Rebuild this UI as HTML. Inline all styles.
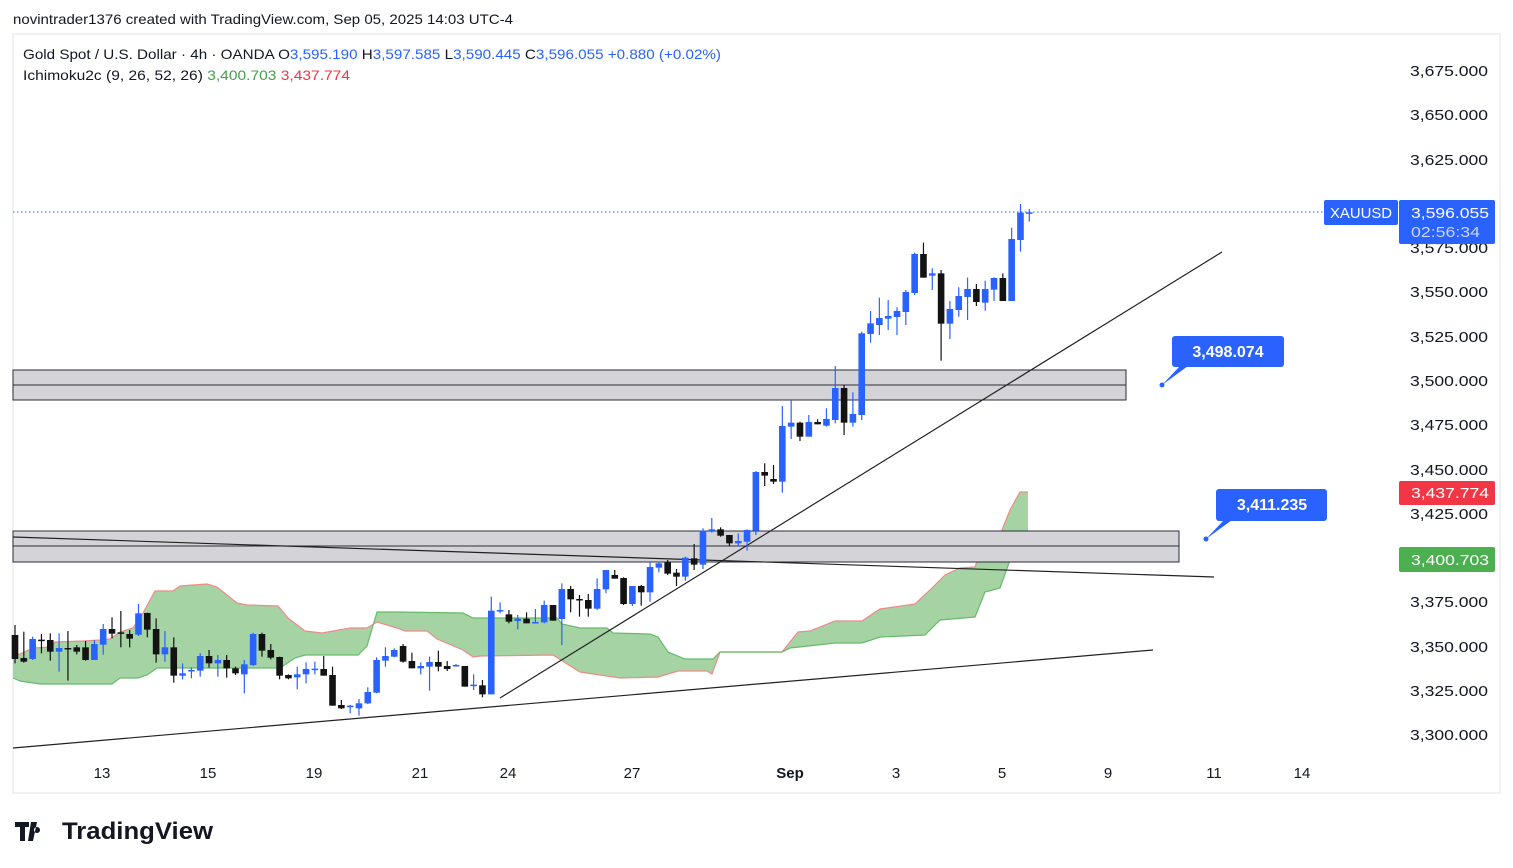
<!DOCTYPE html>
<html><head><meta charset="utf-8">
<style>
html,body{margin:0;padding:0;background:#fff;}
body{width:1513px;height:868px;overflow:hidden;position:relative;font-family:"Liberation Sans",sans-serif;}
svg{position:absolute;left:0;top:0;}
</style></head>
<body>
<svg id="s" width="1513" height="868" xmlns="http://www.w3.org/2000/svg" font-family="Liberation Sans, sans-serif">
<rect x="13" y="34" width="1487" height="759" fill="#fff" stroke="#e0e3eb"/>
<text x="13" y="24" font-size="14" fill="#131722" textLength="500" lengthAdjust="spacingAndGlyphs">novintrader1376 created with TradingView.com, Sep 05, 2025 14:03 UTC-4</text>
<text x="23" y="59" font-size="14" fill="#131722" textLength="698" lengthAdjust="spacingAndGlyphs">Gold Spot / U.S. Dollar · 4h · OANDA  <tspan>O</tspan><tspan fill="#2962ff">3,595.190</tspan> H<tspan fill="#2962ff">3,597.585</tspan> L<tspan fill="#2962ff">3,590.445</tspan> C<tspan fill="#2962ff">3,596.055</tspan> <tspan fill="#2962ff">+0.880 (+0.02%)</tspan></text>
<text x="23" y="80" font-size="14" fill="#131722" textLength="327" lengthAdjust="spacingAndGlyphs">Ichimoku2c (9, 26, 52, 26) <tspan fill="#43a047">3,400.703</tspan> <tspan fill="#f23645">3,437.774</tspan></text>
<g id="cloud"></g>
<g id="zones">
<rect x="13" y="370" width="1113" height="30" fill="#d4d4d8" stroke="#2a2e39" stroke-width="1"/>
<line x1="13" y1="385" x2="1126" y2="385" stroke="#2a2e39"/>
<rect x="13" y="531" width="1166" height="31" fill="#d4d4d8" stroke="#2a2e39" stroke-width="1"/>
<line x1="13" y1="546" x2="1179" y2="546" stroke="#2a2e39"/>
</g>
<g stroke="#222" stroke-width="1.2">
<line x1="500" y1="698" x2="1222" y2="252"/>
<line x1="13" y1="537" x2="1214" y2="577"/>
<line x1="13" y1="748" x2="1153" y2="650"/>
</g>
<line x1="13" y1="212" x2="1324" y2="212" stroke="#2962ff" stroke-dasharray="1.5,2.5"/>
<g id="candles"></g>
<g font-size="15" fill="#131722" id="yax"></g>
<g font-size="15" fill="#131722" text-anchor="middle">
<text x="102" y="778">13</text><text x="208" y="778">15</text><text x="314" y="778">19</text><text x="420" y="778">21</text><text x="508" y="778">24</text><text x="632" y="778">27</text><text x="790" y="778" font-weight="bold">Sep</text><text x="896" y="778">3</text><text x="1002" y="778">5</text><text x="1108" y="778">9</text><text x="1214" y="778">11</text><text x="1302" y="778">14</text>
</g>
<rect x="1324" y="200" width="74" height="25" rx="2" fill="#2962ff"/>
<text x="1330" y="218" font-size="15" fill="#fff" textLength="62" lengthAdjust="spacingAndGlyphs">XAUUSD</text>
<rect x="1399" y="200" width="96" height="44" rx="2" fill="#2962ff"/>
<text x="1411" y="218" font-size="15" fill="#fff" textLength="78" lengthAdjust="spacingAndGlyphs">3,596.055</text>
<text x="1411" y="237" font-size="15" fill="#c9d6ff" textLength="69" lengthAdjust="spacingAndGlyphs">02:56:34</text>
<rect x="1399" y="481" width="96" height="24" rx="2" fill="#f23645"/>
<text x="1411" y="498" font-size="15" fill="#fff" textLength="78" lengthAdjust="spacingAndGlyphs">3,437.774</text>
<rect x="1399" y="547" width="96" height="25" rx="2" fill="#4caf50"/>
<text x="1411" y="565" font-size="15" fill="#fff" textLength="78" lengthAdjust="spacingAndGlyphs">3,400.703</text>
<rect x="1172" y="336" width="112" height="31" rx="3" fill="#2962ff"/>
<polygon points="1180,366 1162,385 1188,366" fill="#2962ff"/><circle cx="1162" cy="385" r="2.5" fill="#2962ff"/>
<text x="1228" y="357" font-size="16" font-weight="bold" fill="#fff" text-anchor="middle">3,498.074</text>
<rect x="1216" y="489" width="111" height="32" rx="3" fill="#2962ff"/>
<polygon points="1224,520 1206,539 1232,520" fill="#2962ff"/><circle cx="1206" cy="539" r="2.5" fill="#2962ff"/>
<text x="1272" y="510" font-size="16" font-weight="bold" fill="#fff" text-anchor="middle">3,411.235</text>
<g transform="translate(15,820)">
<path d="M0 2h14v5h-4v14h-5V7H0z M16 2h6l-4 19h-5z M22 7a3 3 0 1 0 0.01 0z" fill="#131722"/>
</g>
<text x="62" y="839" font-size="24" font-weight="bold" fill="#131722" textLength="151" lengthAdjust="spacingAndGlyphs">TradingView</text>
</svg>
<script>
var NS="http://www.w3.org/2000/svg";
function el(p,t,a){var e=document.createElementNS(NS,t);for(var k in a)e.setAttribute(k,a[k]);p.appendChild(e);return e;}
var ya=document.getElementById('yax');
var labs=[["3,675.000",70],["3,650.000",114],["3,625.000",159],["3,575.000",247],["3,550.000",291],["3,525.000",336],["3,500.000",380],["3,475.000",424],["3,450.000",469],["3,425.000",513],["3,375.000",601],["3,350.000",646],["3,325.000",690],["3,300.000",734]];
labs.forEach(function(l){var t=el(ya,'text',{x:1410,y:l[1]+6,textLength:78,lengthAdjust:'spacingAndGlyphs'});t.textContent=l[0];});
var red=[[13,655],[20,654],[33,648],[50,647],[55,642],[83,641],[100,640],[110,639],[120,632],[133,628],[143,613],[155,591],[173,591],[180,586],[207,584],[217,587],[237,603],[247,605],[278,606],[288,618],[305,631],[322,633],[350,628],[367,628],[377,622],[397,628],[405,631],[427,631],[437,639],[463,650],[473,657],[480,656],[553,655],[580,672],[620,678],[658,677],[678,671],[707,671],[712,674],[720,652],[782,652],[798,632],[810,631],[835,621],[862,621],[880,609],[915,604],[930,590],[945,575],[960,568],[975,567],[985,540],[1000,535],[1010,510],[1020,492],[1028,492]];
var grn=[[13,678],[20,681],[40,684],[112,684],[120,678],[138,678],[147,675],[157,668],[280,668],[295,658],[305,655],[358,655],[367,646],[377,612],[397,612],[463,613],[473,618],[480,618],[557,618],[562,624],[580,628],[607,628],[613,633],[650,634],[658,637],[668,652],[685,659],[713,659],[720,652],[782,652],[790,648],[835,643],[862,643],[880,637],[925,635],[940,620],[975,617],[985,592],[1000,588],[1010,560],[1028,558]];
var cg=document.getElementById('cloud');
var pts=red.concat(grn.slice().reverse()).map(function(p){return p.join(',')}).join(' ');
el(cg,'polygon',{points:pts,fill:'#a5d3a3'});
el(cg,'polyline',{points:red.map(function(p){return p.join(',')}).join(' '),fill:'none',stroke:'#ef8a8a','stroke-width':1.2});
el(cg,'polyline',{points:grn.map(function(p){return p.join(',')}).join(' '),fill:'none',stroke:'#66bb6a','stroke-width':1.2});
var z1=[[0,225,297,195,310],[0,294,305,215,308],[1,237,297,230,300],[0,239,241,222,280],[0,240,275,220,302],[1,264,275,220,335],[0,264,266,213,362],[0,262,275,255,283],[0,262,300,243,302],[1,252,300,240,300],[1,207,254,192,284],[0,207,221,172,235],[0,217,219,153,262],[0,222,236,210,262],[1,160,224,132,228],[0,159,209,158,232],[0,207,283,175,308],[1,262,283,213,305],[0,262,347,232,368],[1,340,347,310,358],[1,330,333,322,355],[1,288,332,280,350],[0,288,310,270,323],[1,300,310,285,350],[0,300,325,285,353],[0,325,340,320,345],[1,313,343,300,400],[1,222,315,218,318],[0,222,272,218,290],[0,270,293,252,298],[0,291,347,290,358],[0,345,355,343,358],[1,343,352,320,388],[1,327,343,307,370],[1,326,328,305,343],[0,327,347,288,347],[0,345,437,320,437],[0,435,445,420,447],[1,437,441,435,460],[1,430,445,417,467],[1,396,430,382,432],[1,300,398,292,400],[1,288,302,262,320],[1,270,290,265,292],[0,258,305,252,308],[0,303,325,278,325],[1,318,325,307,343],[1,306,320,290,392],[0,306,320,272,334],[0,318,327,303,333],[1,315,317,312,317],[0,318,380,318,380],[1,374,376,343,390],[0,376,403,360,412],[1,152,403,110,403]];
var z2=[[1,750,754,727,760],[0,763,785,750,790],[1,776,783,765,808],[0,776,790,757,790],[1,786,788,747,790],[1,735,787,722,790],[0,735,782,735,782],[1,687,777,670,855],[0,687,718,678,757],[0,717,721,705,770],[0,720,746,702,770],[1,687,746,655,750],[1,630,688,630,700],[0,645,656,630,656],[0,654,732,652,735],[1,678,732,678,738],[0,678,697,675,737],[1,621,697,604,725],[1,610,623,605,637],[0,607,641,600,645],[0,638,650,627,678],[1,593,650,590,662],[0,595,614,552,630],[1,512,614,505,627],[1,508,515,474,518],[0,508,527,502,530],[0,525,550,525,558],[1,543,550,520,560],[1,510,545,508,572],[1,336,512,333,525],[0,336,347,310,378],[0,357,365,315,372],[1,198,365,138,398],[1,188,200,120,237],[0,188,230,185,243],[1,186,230,165,230],[0,186,193,178,193],[1,177,197,145,200],[1,84,180,18,190],[0,84,188,75,225],[1,162,188,97,200]];
var z3=[[1,430,675,425,690],[1,400,432,363,458],[1,384,405,323,435],[1,378,386,330,420],[1,363,381,352,435],[1,306,366,300,405],[1,192,309,188,315],[0,192,263,158,263],[1,250,257,235,300],[0,250,401,240,512],[1,357,401,333,447],[1,318,360,292,380],[1,297,321,263,390],[0,297,336,282,348],[1,297,338,272,362],[1,264,299,262,333],[0,264,333,250,333],[1,147,333,113,333],[1,68,150,42,185],[1,67,70,57,95]];
var all=[];
z1.forEach(function(c){all.push([c[0],560+c[1]/3,560+c[2]/3,560+c[3]/3,560+c[4]/3]);});
z2.forEach(function(c){all.push([c[0],360+c[1]/3,360+c[2]/3,360+c[3]/3,360+c[4]/3]);});
z3.forEach(function(c){all.push([c[0],190+c[1]/3,190+c[2]/3,190+c[3]/3,190+c[4]/3]);});
var cgp=document.getElementById('candles');
var n=all.length;
all.forEach(function(c,i){
  var x=15+i*(1029.3-15)/(n-1);
  var col=c[0]?'#2962ff':'#131313';
  el(cgp,'line',{x1:x,x2:x,y1:c[3],y2:c[4],stroke:col,'stroke-width':1.2});
  var h=Math.max(1.5,c[2]-c[1]);
  el(cgp,'rect',{x:x-3.3,y:c[1],width:6.6,height:h,fill:col});
});
</script>
</body></html>
